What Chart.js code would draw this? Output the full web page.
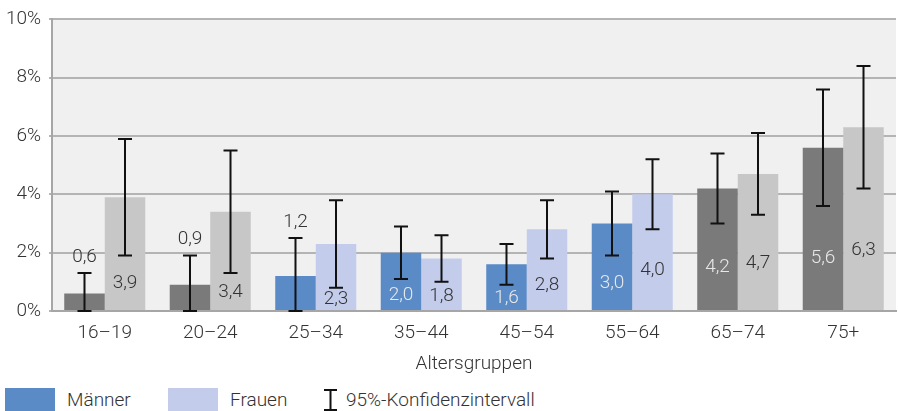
<!DOCTYPE html>
<html>
<head>
<meta charset="utf-8">
<script src="https://cdn.jsdelivr.net/npm/chart.js@4/dist/chart.umd.min.js"></script>
<style>
  body { margin: 0; background: #fff; font-family: Roboto, sans-serif; font-weight: 300; }
  #wrap { position: relative; width: 898px; height: 411px; }
  #legend { position: absolute; left: 0; top: 388px; width: 898px; height: 23px; font-size: 19px; color: #333; }
  .box { position: absolute; top: 0; width: 50px; height: 23px; }
  .txt { position: absolute; top: 0; line-height: 23px; white-space: nowrap; }
</style>
</head>
<body>
<div id="wrap">
  <canvas id="myChart" width="898" height="380"></canvas>
  <div id="legend">
    <div class="box" style="left:5px;background:#5b8bc7"></div><span class="txt" style="left:67px">Männer</span>
    <div class="box" style="left:168px;background:#c3cdeb"></div><span class="txt" style="left:230px">Frauen</span>
    <svg width="15" height="23" style="position:absolute;top:1px;left:323px"><path d="M1 1H14M7.5 1V21M1 21H14" stroke="#111" stroke-width="2" fill="none"/></svg>
    <span class="txt" style="left:346px">95%-Konfidenzintervall</span>
  </div>
</div>
<script>
// Altersgruppen
var labels = ['16–19', '20–24', '25–34', '35–44', '45–54', '55–64', '65–74', '75+'];
var maenner = [0.6, 0.9, 1.2, 2.0, 1.6, 3.0, 4.2, 5.6];
var frauen = [3.9, 3.4, 2.3, 1.8, 2.8, 4.0, 4.7, 6.3];
// 95%-Konfidenzintervall (unten / oben)
var maennerLow = [0, 0, 0, 1.1, 0.9, 1.9, 3.0, 3.6];
var maennerHigh = [1.3, 1.9, 2.5, 2.9, 2.3, 4.1, 5.4, 7.6];
var frauenLow = [1.9, 1.3, 0.8, 1.0, 1.8, 2.8, 3.3, 4.2];
var frauenHigh = [5.9, 5.5, 3.8, 2.6, 3.8, 5.2, 6.1, 8.4];
var yTicks = [0, 2, 4, 6, 8, 10];

// grau fuer 16-24 und 65+, blau dazwischen
var grau = [true, true, false, false, false, false, true, true];
var mColors = grau.map(function(g) { return g ? '#7a7a7a' : '#5b8bc7'; });
var fColors = grau.map(function(g) { return g ? '#c6c7c6' : '#c3cdeb'; });

var lows = [maennerLow, frauenLow];
var highs = [maennerHigh, frauenHigh];

var plotBg = {
  id: 'plotBg',
  beforeDraw: function(chart) {
    var a = chart.chartArea, ctx = chart.ctx;
    ctx.save();
    ctx.fillStyle = '#f0f0f0';
    ctx.fillRect(a.left, a.top, a.right - a.left, a.bottom - a.top);
    ctx.restore();
  }
};

var errBars = {
  id: 'errBars',
  afterDatasetsDraw: function(chart) {
    var ctx = chart.ctx, y = chart.scales.y;
    ctx.save();
    chart.data.datasets.forEach(function(ds, di) {
      var meta = chart.getDatasetMeta(di);
      meta.data.forEach(function(bar, i) {
        var x = bar.x;
        var yl = y.getPixelForValue(lows[di][i]);
        var yh = y.getPixelForValue(highs[di][i]);
        ctx.strokeStyle = '#111';
        ctx.lineWidth = 2;
        ctx.beginPath();
        ctx.moveTo(x, yl); ctx.lineTo(x, yh);
        ctx.moveTo(x - 7, yl); ctx.lineTo(x + 7, yl);
        ctx.moveTo(x - 7, yh); ctx.lineTo(x + 7, yh);
        ctx.stroke();

        // Wertbeschriftung
        var v = ds.data[i];
        var ty, col;
        if (lows[di][i] === 0) {
          ty = yh - 16;
          col = '#333';
        } else {
          ty = y.getPixelForValue(lows[di][i] / 2);
          col = (di === 0) ? '#e8e8e8' : '#333';
        }
        ctx.font = '300 19px Roboto, sans-serif';
        ctx.fillStyle = col;
        ctx.textAlign = 'center';
        ctx.textBaseline = 'middle';
        ctx.fillText(v.toFixed(1).replace('.', ','), x, ty);
      });
    });
    ctx.restore();
  }
};

var ctx = document.getElementById('myChart').getContext('2d');
var chart = new Chart(ctx, {
  type: 'bar',
  data: {
    labels: labels,
    datasets: [{
      label: 'Männer',
      data: maenner,
      backgroundColor: mColors,
      categoryPercentage: 0.768,
      barPercentage: 1
    }, {
      label: 'Frauen',
      data: frauen,
      backgroundColor: fColors,
      categoryPercentage: 0.768,
      barPercentage: 1
    }]
  },
  options: {
    responsive: false,
    animation: false,
    layout: { padding: { top: 15, right: 2, left: 0, bottom: 0 } },
    plugins: { legend: { display: false }, tooltip: { enabled: false } },
    scales: {
      x: {
        afterFit: function(s) { s.height = 69; },
        grid: { display: false },
        border: { color: '#a6a6a6', width: 2 },
        ticks: { color: '#333', font: { family: 'Roboto', size: 19, weight: '300' }, padding: 3 },
        title: { display: true, text: 'Altersgruppen', color: '#333', font: { family: 'Roboto', size: 19, weight: '300' }, padding: { top: 4 } }
      },
      y: {
        min: 0, max: 10,
        afterFit: function(s) { s.width = 52; },
        afterBuildTicks: function(s) { s.ticks = yTicks.map(function(v) { return { value: v }; }); },
        grid: { color: '#b4b4b4', lineWidth: 2, drawTicks: true, tickLength: 3 },
        border: { color: '#a6a6a6', width: 2 },
        ticks: { color: '#333', font: { family: 'Roboto', size: 19, weight: '300' }, padding: 8,
          callback: function(v) { return v + '%'; } }
      }
    }
  },
  plugins: [plotBg, errBars]
});
</script>
</body>
</html>
